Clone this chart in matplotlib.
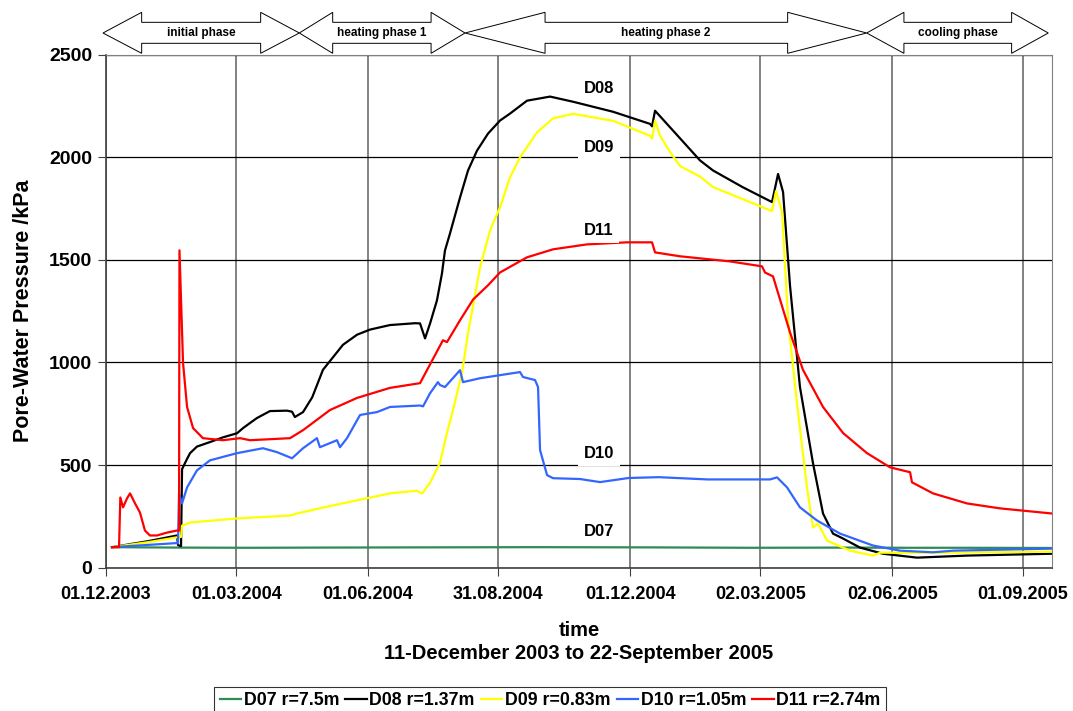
import numpy as np
import matplotlib
matplotlib.use("Agg")
import matplotlib.pyplot as plt
import matplotlib.dates as mdates
import matplotlib.transforms as mtransforms
from matplotlib.patches import Polygon
from datetime import datetime

plt.rcParams["font.family"] = ["Liberation Sans", "DejaVu Sans"]
plt.rcParams["font.weight"] = "bold"

START = datetime(2003, 12, 1)   # day 0 of all day lists below

# --- pore-water pressure series (days since START, kPa) ---
d07_days = [4.2, 50, 100, 150, 220, 300, 380, 450, 520, 560, 600, 660.6]
d07_kpa = [100, 98, 97, 98, 99, 100, 99, 97, 98, 97, 97, 96]

d08_days = [4.2, 30, 49.6, 50.3, 52.4, 53.1, 56.6, 58.7, 63.5, 72.6, 81.7, 91.5, 95.7,
            100.6, 105.4, 114.5, 126.4, 129.9, 131.9, 137.6, 144, 151.5, 165.5, 175.3,
            184.4, 198.3, 215.8, 219.3, 222.8, 226.3, 231.1, 234.6, 236.7, 240.2, 247.2,
            252.8, 259.1, 266.8, 275.1, 282.1, 294.0, 310.1, 326.1, 354.1, 379.9, 381.3,
            383.4, 396.0, 414.8, 423.9, 444.8, 465.1, 469.3, 472.8, 477.7, 484.6, 493.7,
            500.7, 507.7, 514.7, 526.5, 542.6, 566.3, 601.3, 660.6]
d08_kpa = [100, 130, 157, 110, 105, 480, 530, 558, 590, 612, 635, 655, 680,
           705, 729, 763, 765, 760, 734, 758, 830, 964, 1086, 1135,
           1160, 1182, 1191, 1190, 1117, 1190, 1302, 1433, 1545, 1628, 1803,
           1935, 2032, 2115, 2178, 2212, 2275, 2295, 2270, 2221, 2162, 2150,
           2226, 2129, 1984, 1935, 1853, 1781, 1918, 1830, 1370, 880, 509,
           264, 166, 142, 98, 68, 49, 59, 68]

d09_days = [4.2, 30, 49.6, 52.4, 53.1, 58.7, 91.5, 128.5, 133.4, 151.5, 198.3, 217,
            220.7, 226.3, 233.2, 238.1, 242.3, 248.6, 252.8, 261.2, 268.2, 275.1, 282.1,
            289.1, 301, 312.2, 326.1, 354.1, 379.9, 381.3, 383.4, 386.9, 393.9, 400.8,
            414.8, 423.9, 444.8, 465.1, 467.9, 472.1, 476.3, 482.5, 489.5, 493.7, 497.2,
            503.5, 519.6, 535.6, 540.5, 577.5, 660.6]
d09_kpa = [100, 125, 148, 150, 205, 220, 240, 254, 264, 293, 362, 375,
           361, 414, 511, 657, 768, 949, 1142, 1463, 1643, 1755, 1901,
           1999, 2121, 2189, 2211, 2177, 2104, 2090, 2177, 2104, 2025, 1957,
           1905, 1854, 1795, 1737, 1835, 1732, 1208, 802, 391, 196, 215,
           132, 83, 59, 73, 73, 78]

d10_days = [4.2, 49.6, 50.3, 51.0, 53.1, 56.6, 63.5, 72.6, 91.5, 109.6, 119.4, 129.9,
            137.6, 147.3, 149.4, 161.3, 163.4, 168.3, 177.4, 189.2, 198.3, 219.3, 221.4,
            226.3, 231.8, 233.2, 236.7, 247.2, 249.3, 261.2, 289.1, 291.2, 299.6, 301.7,
            303.1, 308, 312.2, 331, 345, 365, 386, 420, 463.7, 468.6, 475.6, 484.6,
            496.5, 512.6, 535.6, 554.5, 577.5, 591.5, 660.6]
d10_kpa = [100, 120, 118, 362, 313, 391, 474, 523, 558, 582, 563, 533,
           582, 631, 587, 621, 587, 631, 744, 758, 783, 790, 786,
           850, 904, 890, 880, 962, 904, 923, 953, 929, 914, 880,
           573, 451, 436, 432, 417, 437, 441, 430, 430, 440, 391, 294,
           230, 166, 108, 83, 75, 83, 93]

d11_days = [4.2, 9.1, 10.0, 11.9, 14.7, 16.8, 20.3, 23.7, 27.2, 30.7, 35.6, 42.6, 49.6,
            51.0, 51.3, 53.8, 56.6, 60.8, 67.7, 81.7, 93.6, 100.6, 128.5, 137.6, 156.4,
            175.3, 198.3, 219.3, 235.3, 238.1, 247.2, 256.3, 266.8, 275.1, 294.0, 312.2,
            335.9, 363.8, 381.3, 383.4, 400.8, 435.8, 458.1, 460.2, 465.8, 470.7, 477.7,
            486.7, 500.7, 514.7, 531.4, 547.5, 561.5, 562.8, 577.5, 601.3, 624.3, 660.6]
d11_kpa = [100, 100, 342, 294, 338, 362, 313, 269, 181, 157, 157, 171, 181,
           181, 1546, 998, 783, 680, 631, 621, 631, 621, 631, 670, 768,
           827, 876, 899, 1108, 1099, 1205, 1306, 1376, 1438, 1512, 1551,
           1575, 1585, 1585, 1536, 1517, 1492, 1468, 1438, 1419, 1306, 1145,
           964, 783, 656, 558, 489, 465, 416, 362, 313, 289, 264]

series = [
    ("D07 r=7.5m", d07_days, d07_kpa, "#2E8B57"),
    ("D08 r=1.37m", d08_days, d08_kpa, "black"),
    ("D09 r=0.83m", d09_days, d09_kpa, "#FFFF00"),
    ("D10 r=1.05m", d10_days, d10_kpa, "#3366FF"),
    ("D11 r=2.74m", d11_days, d11_kpa, "#FF0000"),
]

# curve tags written inside the plot
tag_names = ["D08", "D09", "D11", "D10", "D07"]
tag_day = 344.3
tag_kpa = [2335, 2048, 1643, 557, 175]

# test phases (days since START)
phase_names = ["initial phase", "heating phase 1", "heating phase 2", "cooling phase"]
phase_start = [-2.1, 135.0, 250.7, 531.2]
phase_end = [135.0, 250.7, 531.2, 658.0]
phase_head = [(27.0, 27.0), (23.3, 23.7), (55.9, 55.2), (26.0, 25.6)]

tick_dates = ["2003-12-01", "2004-03-01", "2004-06-01", "2004-08-31",
              "2004-12-01", "2005-03-02", "2005-06-02", "2005-09-01"]

base = mdates.date2num(START)

fig = plt.figure(figsize=(10.73, 7.11), dpi=100)
ax = fig.add_axes([106 / 1073, (711 - 567.7) / 711, (1052 - 106) / 1073, (567.7 - 54.5) / 711])

for label, days, kpa, col in series:
    ax.plot(base + np.array(days), kpa, color=col, lw=1.6, label=label)

ax.set_xlim(base, base + 660.6)
ax.set_ylim(0, 2500)
ax.set_yticks(np.arange(0, 2501, 500))
ax.set_xticks([mdates.date2num(datetime.strptime(d, "%Y-%m-%d")) for d in tick_dates])
ax.xaxis.set_major_formatter(mdates.DateFormatter("%d.%m.%Y"))
ax.tick_params(axis="y", labelsize=14, length=6, color="#404040", pad=4)
ax.tick_params(axis="x", labelsize=13, length=6, color="#404040", pad=7)

ax.grid(axis="x", color="#777777", lw=1.3)
ax.grid(axis="y", color="black", lw=0.9)
ax.set_axisbelow(True)
for s in ["top", "right"]:
    ax.spines[s].set_color("#808080")
for s in ["left", "bottom"]:
    ax.spines[s].set_color("#404040")
    ax.spines[s].set_linewidth(1.2)

ax.set_ylabel("Pore-Water Pressure /kPa", fontsize=15.5, fontweight="bold", labelpad=11)
ax.set_xlabel("time\n11-December 2003 to 22-September 2005", fontsize=14.5,
              fontweight="bold", labelpad=13, linespacing=1.3)

for name, k in zip(tag_names, tag_kpa):
    ax.text(base + tag_day, k, name, ha="center", va="center", fontsize=12, fontweight="bold",
            bbox=dict(facecolor="white", edgecolor="none", pad=4), zorder=5)

# phase arrows above the plot
trans = mtransforms.blended_transform_factory(ax.transData, ax.transAxes)
y_ht, y_st, y_c, y_sb, y_hb = 1.0822, 1.0627, 1.0419, 1.0218, 1.0023
for name, s, e, (h0, h1) in zip(phase_names, phase_start, phase_end, phase_head):
    x0, x1 = base + s, base + e
    verts = [(x0, y_c), (x0 + h0, y_ht), (x0 + h0, y_st), (x1 - h1, y_st), (x1 - h1, y_ht),
             (x1, y_c), (x1 - h1, y_hb), (x1 - h1, y_sb), (x0 + h0, y_sb), (x0 + h0, y_hb)]
    ax.add_patch(Polygon(verts, closed=True, facecolor="white", edgecolor="black",
                         lw=0.7, transform=trans, clip_on=False))
    ax.text((x0 + x1) / 2, y_c, name, transform=trans, ha="center", va="center",
            fontsize=8.5, fontweight="bold")

leg = fig.legend(loc="upper center", bbox_to_anchor=(0.5126, (711 - 687) / 711), ncol=5,
                 fontsize=12.8, frameon=True, fancybox=False, edgecolor="black",
                 handlelength=1.2, handletextpad=0.15, columnspacing=0.35,
                 borderpad=0.3, borderaxespad=0)
leg.get_frame().set_linewidth(0.8)
for t in leg.get_texts():
    t.set_fontweight("bold")

fig.savefig("out.png", dpi=100)
